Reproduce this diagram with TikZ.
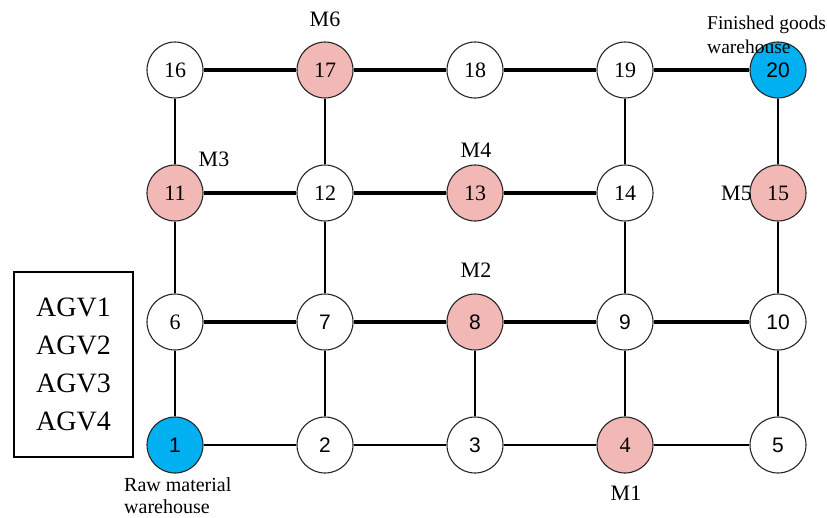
\documentclass[tikz,border=0pt]{standalone}
\usepackage{fontspec}
\setmainfont{Liberation Serif}
\newfontfamily\arialf{Liberation Sans}
\definecolor{mpink}{HTML}{F2B8B6}
\definecolor{mblue}{HTML}{00B0F0}
\begin{document}
\begin{tikzpicture}[x=1pt,y=-1pt,
  nd/.style={circle,draw=black!85,line width=1.1pt,minimum size=56pt,inner sep=0pt,fill=white,font=\fontsize{22}{24}\selectfont},
  mach/.style={nd,fill=mpink},
  wh/.style={nd,fill=mblue},
  sf/.style={font=\arialf\fontsize{21}{24}\selectfont},
  thk/.style={line width=3.4pt},
  thn/.style={line width=2.2pt},
  lbl/.style={font=\fontsize{22}{24}\selectfont,inner sep=0pt},
  small/.style={font=\fontsize{20}{22}\selectfont,align=left,inner sep=0pt}]
\useasboundingbox (0,0) rectangle (827,517);
\node[wh,sf] (n1) at (175,445) {1};
\node[nd,sf] (n2) at (325,445) {2};
\node[nd,sf] (n3) at (475,445) {3};
\node[mach] (n4) at (625,445) {4};
\node[nd,sf] (n5) at (778,445) {5};
\node[nd] (n6) at (175,322) {6};
\node[nd,sf] (n7) at (325,322) {7};
\node[mach,sf] (n8) at (475,322) {8};
\node[nd,sf] (n9) at (625,322) {9};
\node[nd,sf] (n10) at (778,322) {10};
\node[mach] (n11) at (175,193) {11};
\node[nd] (n12) at (325,193) {12};
\node[mach] (n13) at (475,193) {13};
\node[nd] (n14) at (625,193) {14};
\node[mach] (n15) at (778,193) {15};
\node[nd] (n16) at (175,70) {16};
\node[mach] (n17) at (325,70) {17};
\node[nd] (n18) at (475,70) {18};
\node[nd] (n19) at (625,70) {19};
\node[wh,sf] (n20) at (778,70) {20};
% labels
\node[lbl] (m6) at (325,19) {M6};
\node[lbl] (m3) at (214,159) {M3};
\node[lbl] (m4) at (476,150) {M4};
\node[lbl] (m2) at (476,270) {M2};
\node[lbl,anchor=east] (m5) at (752,193) {M5};
\node[lbl] (m1) at (626,493) {M1};
\node[small,anchor=base west,font=\fontsize{19.5}{24}\selectfont] (fg) at (707,53) {Finished goods\\warehouse};
\node[small,anchor=base west] (rm) at (124,513) {Raw material\\warehouse};
% edges
\draw[thk] (n16) -- (n17);
\draw[thk] (n17) -- (n18);
\draw[thk] (n18) -- (n19);
\draw[thk] (n19) -- (n20);
\draw[thk] (n11) -- (n12);
\draw[thk] (n12) -- (n13);
\draw[thk] (n13) -- (n14);
\draw[thk] (n6) -- (n7);
\draw[thk] (n7) -- (n8);
\draw[thk] (n8) -- (n9);
\draw[thk] (n9) -- (n10);
\draw[thn] (n1) -- (n2);
\draw[thn] (n2) -- (n3);
\draw[thn] (n3) -- (n4);
\draw[thn] (n4) -- (n5);
\draw[thn] (n1) -- (n6);
\draw[thn] (n6) -- (n11);
\draw[thn] (n11) -- (n16);
\draw[thn] (n2) -- (n7);
\draw[thn] (n7) -- (n12);
\draw[thn] (n12) -- (n17);
\draw[thn] (n3) -- (n8);
\draw[thn] (n4) -- (n9);
\draw[thn] (n9) -- (n14);
\draw[thn] (n14) -- (n19);
\draw[thn] (n5) -- (n10);
\draw[thn] (n10) -- (n15);
\draw[thn] (n15) -- (n20);
% AGV box
\node[draw,line width=2.2pt,minimum width=119pt,minimum height=185pt,inner sep=0pt,align=center,font=\fontsize{28}{38}\selectfont] (agv) at (73.5,364.5) {AGV1\\AGV2\\AGV3\\AGV4};
\end{tikzpicture}
\end{document}
